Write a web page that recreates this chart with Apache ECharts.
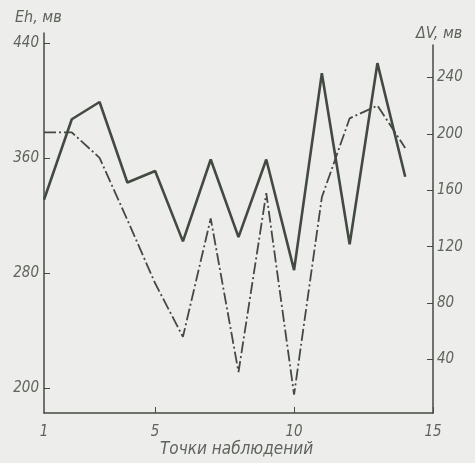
<!DOCTYPE html>
<html>
<head>
<meta charset="utf-8">
<script src="https://cdn.jsdelivr.net/npm/echarts@6/dist/echarts.min.js"></script>
<style>
  html, body { margin: 0; background: #ededeb; }
  #main { width: 475px; height: 463px; }
</style>
</head>
<body>
<div id="main"></div>
<script>
// точки наблюдений
const points = [1, 2, 3, 4, 5, 6, 7, 8, 9, 10, 11, 12, 13, 14]
// Eh, мв (сплошная линия, левая ось)
const ehValues = [331, 387, 399, 343, 351, 302, 359, 305, 359, 282, 419, 300, 426, 347]
// ΔV, мв (штрих-пунктир, правая ось)
const dvValues = [201, 201, 183, 139, 94, 56, 140, 31, 158, 15, 155, 211, 220, 190]
// подписи осей
const xTicks = [1, 5, 10, 15]
const ehTicks = [200, 280, 360, 440]
const dvTicks = [40, 80, 120, 160, 200, 240]

const ink = '#434a41'
const textColor = '#5f645d'
const font = 'DejaVu Sans Condensed'

let myChart = echarts.init(document.getElementById('main'))

const labelStyle = {
  color: textColor,
  fontSize: 15,
  fontStyle: 'italic',
  fontFamily: font,
}

let option = {
  backgroundColor: '#ededeb',
  animation: false,
  grid: [
    { left: 44, right: 42, top: 33, bottom: 50 },
    { left: 44, right: 42, top: 45, bottom: 50 },
  ],
  xAxis: [
    {
      type: 'value',
      gridIndex: 0,
      min: 1,
      max: 15,
      splitLine: { show: false },
      axisLine: { lineStyle: { color: ink, width: 1.5 } },
      axisTick: { inside: true, length: 6, customValues: [5, 10, 15], lineStyle: { color: ink } },
      axisLabel: Object.assign({ customValues: xTicks, margin: 12 }, labelStyle),
    },
    {
      type: 'value',
      gridIndex: 1,
      min: 1,
      max: 15,
      show: false,
    },
  ],
  yAxis: [
    {
      type: 'value',
      gridIndex: 0,
      position: 'left',
      min: 182.6,
      max: 447,
      splitLine: { show: false },
      axisLine: { show: true, lineStyle: { color: ink, width: 1.5 } },
      axisTick: { show: true, inside: true, length: 6, customValues: ehTicks, lineStyle: { color: ink } },
      axisLabel: Object.assign({ customValues: ehTicks, margin: 5 }, labelStyle),
    },
    {
      type: 'value',
      gridIndex: 1,
      position: 'right',
      min: 2,
      max: 263,
      splitLine: { show: false },
      axisLine: { show: true, lineStyle: { color: ink, width: 1.5 } },
      axisTick: { show: true, inside: true, length: 6, customValues: dvTicks, lineStyle: { color: ink } },
      axisLabel: Object.assign({ customValues: dvTicks, margin: 4 }, labelStyle),
    },
  ],
  graphic: [
    {
      type: 'text',
      left: 15,
      top: 10,
      style: { text: 'Eh, мв', fill: textColor, font: 'italic 16px "' + font + '"' },
    },
    {
      type: 'text',
      left: 416,
      top: 26,
      style: { text: 'ΔV, мв', fill: textColor, font: 'italic 16px "' + font + '"' },
    },
    {
      type: 'text',
      left: 160,
      top: 441,
      style: { text: 'Точки наблюдений', fill: textColor, font: 'italic 17px "' + font + '"' },
    },
  ],
  series: [
    {
      name: 'Eh',
      type: 'line',
      xAxisIndex: 0,
      yAxisIndex: 0,
      data: points.map((p, i) => [p, ehValues[i]]),
      symbol: 'none',
      lineStyle: { color: ink, width: 2.6 },
    },
    {
      name: 'ΔV',
      type: 'line',
      xAxisIndex: 1,
      yAxisIndex: 1,
      data: points.map((p, i) => [p, dvValues[i]]),
      symbol: 'none',
      lineStyle: { color: ink, width: 1.8, type: [12, 3, 2, 3] },
    },
  ],
}

myChart.setOption(option)
</script>
</body>
</html>
